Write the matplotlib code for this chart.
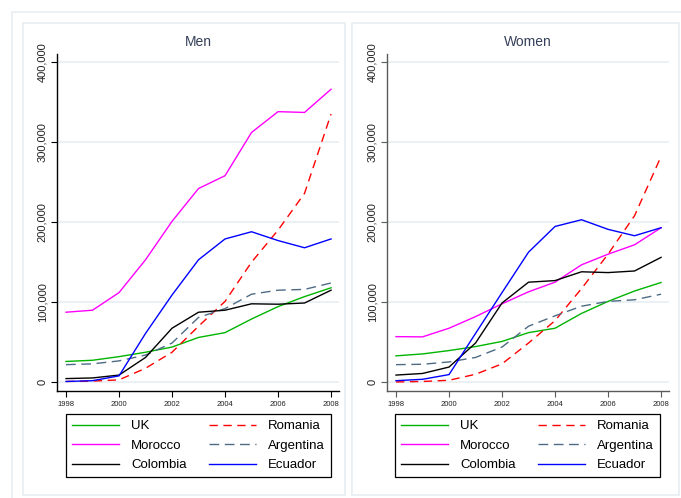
import matplotlib
matplotlib.use("Agg")
import matplotlib.pyplot as plt
from matplotlib.patches import Rectangle
from matplotlib.lines import Line2D
from matplotlib.ticker import FuncFormatter

plt.rcParams['font.family'] = ['Liberation Sans', 'DejaVu Sans']

years = [1998, 1999, 2000, 2001, 2002, 2003, 2004, 2005, 2006, 2007, 2008]
countries = ["UK", "Romania", "Morocco", "Argentina", "Colombia", "Ecuador"]

men_uk = [26000, 27500, 32000, 37500, 44000, 56000, 62000, 79000, 94500, 107000, 118000]
men_romania = [1000, 1500, 3000, 17500, 37500, 70000, 101000, 150000, 190000, 236000, 335000]
men_morocco = [87500, 90000, 112000, 153000, 201000, 242000, 258000, 312000, 338000, 337000, 366000]
men_argentina = [22000, 23000, 26700, 34000, 49000, 81000, 92000, 110000, 115000, 116000, 124000]
men_colombia = [4600, 5400, 9000, 31000, 67500, 87500, 90000, 98000, 97500, 99000, 115000]
men_ecuador = [1000, 2000, 8000, 61000, 109000, 153000, 179000, 188000, 177000, 168000, 179000]

women_uk = [33000, 35400, 39600, 44600, 51000, 62000, 67500, 86000, 101000, 114000, 124600]
women_romania = [400, 1000, 2500, 10000, 23000, 49000, 77000, 117000, 160000, 208000, 282000]
women_morocco = [57000, 56700, 67500, 82000, 98000, 113000, 125000, 146700, 160000, 171700, 193000]
women_argentina = [22000, 22500, 25400, 31000, 44000, 70000, 83000, 95000, 101000, 103000, 110000]
women_colombia = [9000, 11000, 19000, 49000, 99000, 125000, 127000, 138000, 137000, 139000, 156000]
women_ecuador = [2000, 3700, 9600, 61000, 112000, 162500, 194600, 203000, 191000, 183000, 193000]

men = [men_uk, men_romania, men_morocco, men_argentina, men_colombia, men_ecuador]
women = [women_uk, women_romania, women_morocco, women_argentina, women_colombia, women_ecuador]

colors = ["#00b400", "#ff0000", "#ff00ff", "#4e6b85", "#000000", "#0000ff"]
styles = ["-", (0, (6, 4)), "-", (0, (7, 4)), "-", "-"]
# legend fills column-wise; this order gives row-wise UK/Romania, Morocco/Argentina, Colombia/Ecuador
leg_order = [0, 2, 4, 1, 3, 5]

W, H = 681, 498
fig = plt.figure(figsize=(W / 100, H / 100), dpi=100)
fig.patch.set_facecolor("white")

frame_col = "#e6eef2"
fig.patches.append(Rectangle((12 / W, -0.01), 1.05, 1 - 12 / H + 0.01, transform=fig.transFigure,
                             fill=False, edgecolor=frame_col, lw=1.2, zorder=0))
fig.patches.append(Rectangle((23 / W, 1 - 495 / H), (345 - 23) / W, (495 - 23) / H, transform=fig.transFigure,
                             fill=False, edgecolor=frame_col, lw=1.2, zorder=0))
fig.patches.append(Rectangle((352 / W, 1 - 495 / H), (679 - 352) / W, (495 - 23) / H, transform=fig.transFigure,
                             fill=False, edgecolor=frame_col, lw=1.2, zorder=0))

def fmt(v, pos):
    return "{:,.0f}".format(v)

panels = [("Men", men, 57, 66, "#000000"), ("Women", women, 387, 395, "#5a5a5a")]
for title, data, axl, legl, spcol in panels:
    ax = fig.add_axes([axl / W, 1 - 391 / H, 282 / W, (391 - 54) / H])
    ax.set_facecolor("none")
    for y, c, ls, lab in zip(data, colors, styles, countries):
        ax.plot(years, y, color=c, linestyle=ls, lw=1.0, label=lab)
    ax.set_xlim(1997.66, 2008.3)
    ax.set_ylim(-10900, 410000)
    ax.set_yticks([0, 100000, 200000, 300000, 400000])
    ax.set_xticks([1998, 2000, 2002, 2004, 2006, 2008])
    ax.yaxis.set_major_formatter(FuncFormatter(fmt))
    ax.grid(axis="y", color="#e8eff3", lw=1.3)
    ax.set_axisbelow(True)
    for s in ["top", "right"]:
        ax.spines[s].set_visible(False)
    for s in ["left", "bottom"]:
        ax.spines[s].set_color(spcol)
        ax.spines[s].set_linewidth(1.0)
    ax.tick_params(axis="y", length=4, width=0.8, color=spcol, pad=3, labelsize=8, labelrotation=90,
                   labelcolor="#222222")
    for t in ax.get_yticklabels():
        t.set_va("center")
    ax.tick_params(axis="x", length=4, width=0.8, color=spcol, pad=3, labelsize=5.5, labelcolor="#222222")
    fig.text((axl + 141) / W, 1 - 42 / H, title, ha="center", va="center", fontsize=10, color="#35405a")
    handles = [Line2D([0], [0], color=colors[i], linestyle=styles[i], lw=1.0) for i in leg_order]
    labels = [countries[i] for i in leg_order]
    leg = ax.legend(handles, labels, loc="upper left", ncol=2, mode="expand",
                    bbox_to_anchor=(legl / W, 1 - 478 / H, 265 / W, 64 / H), bbox_transform=fig.transFigure,
                    borderaxespad=0, fontsize=9.5, handlelength=3.6, handletextpad=0.9,
                    labelspacing=0.55, borderpad=0.45, fancybox=False, framealpha=1, edgecolor="black")
    leg.get_frame().set_linewidth(0.9)

fig.savefig("out.png", dpi=100)
